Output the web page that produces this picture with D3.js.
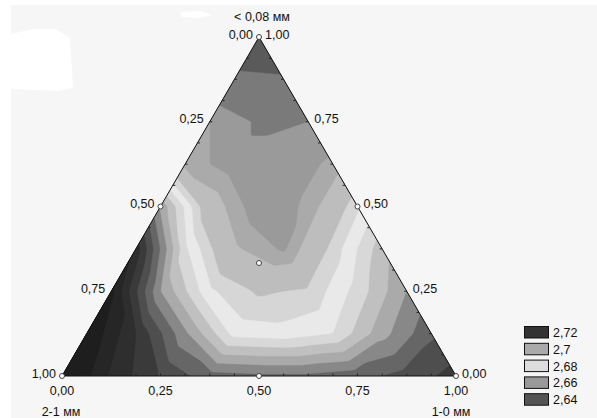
<!DOCTYPE html>
<html>
<head>
<meta charset="utf-8">
<script src="https://cdn.jsdelivr.net/npm/d3@7"></script>
<style>
body { margin: 0; background: #fff; }
svg { display: block; font-family: "Liberation Sans", Arial, sans-serif; }
</style>
</head>
<body>
<svg id="chart" width="597" height="418"></svg>
<script>
// surface read off the bands on a 1/8 triangular mesh
// rowK: fraction < 0,08 mm = K/8, entries step 1-0 mm by 1/8 from the left edge
var row0 = [2.743, 2.729, 2.7195, 2.712, 2.711, 2.711, 2.713, 2.717, 2.722];
var row1 = [2.740, 2.725, 2.706, 2.688, 2.687, 2.690, 2.703, 2.714];
var row2 = [2.736, 2.705, 2.686, 2.679, 2.681, 2.692, 2.705];
var row3 = [2.728, 2.691, 2.671, 2.664, 2.682, 2.698];
var row4 = [2.704, 2.674, 2.661, 2.666, 2.684];
var row5 = [2.668, 2.662, 2.662, 2.666];
var row6 = [2.665, 2.659, 2.660];
var row7 = [2.652, 2.651];
var row8 = [2.642];
var mesh = [row0, row1, row2, row3, row4, row5, row6, row7, row8];

// experimental points drawn as circles
var pt10   = [0, 1, 0, 0.5, 0,   0.5, 1/3];
var ptFine = [0, 0, 1, 0,   0.5, 0.5, 1/3];

// contour levels and the fill of the band starting at each level
var levels = [2.640, 2.650, 2.660, 2.665, 2.670, 2.680, 2.685, 2.690, 2.695,
              2.700, 2.705, 2.710, 2.715, 2.720, 2.725, 2.730, 2.735];
var bandColors = ["#5a5a5a", "#7a7a7a", "#9a9a9a", "#aaaaaa", "#bdbdbd", "#d6d6d6",
                  "#e9e9e9", "#d8d8d8", "#c0c0c0", "#aaaaaa", "#888888", "#666666",
                  "#4e4e4e", "#3a3a3a", "#2e2e2e", "#262626", "#1e1e1e"];
var belowColor = "#505050";

var legendLabels = ["2,72", "2,7", "2,68", "2,66", "2,64"];
var legendColors = ["#333333", "#aaaaaa", "#dddddd", "#999999", "#555555"];

var axisTicks = [0, 0.25, 0.5, 0.75, 1];
var minorTicks = d3.range(0, 1.0001, 1/16);

var svg = d3.select("#chart");

// scan background
svg.append("rect").attr("x", 11).attr("y", 5).attr("width", 586).attr("height", 413)
  .attr("fill", "#f6f6f6");
svg.append("path")
  .attr("d", "M11,34 L33,29 L56,29 L70,38 L73,88 L58,91 L11,89 Z")
  .attr("fill", "#fff");
svg.append("path")
  .attr("d", "M180,12 L200,11 L212,15 L200,18 L182,17 Z")
  .attr("fill", "#fff");

// base position for 1-0 mm, height for < 0.08 mm
var x = d3.scaleLinear().domain([0, 1]).range([62, 456]);
var y = d3.scaleLinear().domain([0, 1]).range([376, 37]);
function pos(b, c) { return [x(b + c / 2), y(c)]; }

// linear interpolation inside the mesh triangles
var n = mesh.length - 1;
function node(k, j) {
  k = Math.max(0, Math.min(n, k));
  var r = mesh[k];
  return r[Math.max(0, Math.min(r.length - 1, j))];
}
function surface(b, c) {
  c = Math.max(0, Math.min(1, c));
  b = Math.max(0, Math.min(1 - c, b));
  var v = c * n, u = b * n;
  var k = Math.min(n - 1, Math.floor(v)), j = Math.floor(u);
  var fv = v - k, fu = u - j;
  if (fu + fv <= 1) {
    return node(k, j) * (1 - fu - fv) + node(k, j + 1) * fu + node(k + 1, j) * fv;
  }
  return node(k + 1, j + 1) * (fu + fv - 1) + node(k, j + 1) * (1 - fv) + node(k + 1, j) * (1 - fu);
}

// sample the surface on a pixel grid
var x0 = 58, y0 = 33, step = 2, nx = 202, ny = 176;
var values = new Array(nx * ny);
for (var j = 0; j < ny; j++) {
  for (var i = 0; i < nx; i++) {
    var c = y.invert(y0 + (j + 0.5) * step);
    var b = x.invert(x0 + (i + 0.5) * step) - c / 2;
    values[j * nx + i] = surface(b, c);
  }
}

var tri = [pos(0, 0), pos(1, 0), pos(0, 1)];
svg.append("clipPath").attr("id", "tri").append("path")
  .attr("d", "M" + tri.join("L") + "Z");

var plot = svg.append("g").attr("clip-path", "url(#tri)");
plot.append("path").attr("d", "M" + tri.join("L") + "Z").attr("fill", belowColor);

var gridPath = d3.geoPath(d3.geoTransform({
  point: function(px, py) { this.stream.point(x0 + px * step, y0 + py * step); }
}));
var bands = d3.contours().size([nx, ny]).thresholds(levels)(values);
plot.selectAll("path.band").data(bands).join("path")
  .attr("class", "band")
  .attr("d", gridPath)
  .attr("fill", function(d, i) { return bandColors[i]; })
  .attr("stroke", function(d, i) { return bandColors[i]; })
  .attr("stroke-width", 0.4);

// frame and ticks
svg.append("path").attr("d", "M" + tri.join("L") + "Z")
  .attr("fill", "none").attr("stroke", "#111").attr("stroke-width", 1);

var tickG = svg.append("g").attr("stroke", "#222").attr("stroke-width", 1);
minorTicks.forEach(function(t) {
  var p = pos(t, 0);
  tickG.append("line").attr("x1", p[0]).attr("y1", p[1]).attr("x2", p[0]).attr("y2", p[1] - 2.5);
  var q = pos(0, t);
  tickG.append("line").attr("x1", q[0]).attr("y1", q[1]).attr("x2", q[0] + 2.5).attr("y2", q[1]);
  var r = pos(1 - t, t);
  tickG.append("line").attr("x1", r[0]).attr("y1", r[1]).attr("x2", r[0] - 2.5).attr("y2", r[1]);
});

var fmt = function(v) { return v.toFixed(2).replace(".", ","); };
var labels = svg.append("g").attr("font-size", "12.5px").attr("fill", "#111");

// 1-0 mm along the base
labels.selectAll("text.b").data(axisTicks).join("text")
  .attr("x", function(t) { return pos(t, 0)[0]; })
  .attr("y", 395)
  .attr("text-anchor", "middle")
  .text(fmt);
// 2-1 mm on the left edge
labels.selectAll("text.l").data(axisTicks).join("text")
  .attr("x", function(t) { return pos(0, 1 - t)[0] - 6; })
  .attr("y", function(t) { return pos(0, 1 - t)[1] + 1.5; })
  .attr("text-anchor", "end")
  .text(fmt);
// < 0.08 mm on the right edge
labels.selectAll("text.r").data(axisTicks).join("text")
  .attr("x", function(t) { return pos(1 - t, t)[0] + 6; })
  .attr("y", function(t) { return pos(1 - t, t)[1] + 1.5; })
  .attr("text-anchor", "start")
  .text(fmt);

labels.append("text").attr("x", 61).attr("y", 416).attr("text-anchor", "middle").text("2-1 мм");
labels.append("text").attr("x", 451).attr("y", 416).attr("text-anchor", "middle").text("1-0 мм");
labels.append("text").attr("x", 262).attr("y", 21).attr("text-anchor", "middle").text("< 0,08 мм");

// design points
svg.append("g").selectAll("circle").data(pt10).join("circle")
  .attr("cx", function(b, i) { return pos(b, ptFine[i])[0]; })
  .attr("cy", function(b, i) { return pos(b, ptFine[i])[1]; })
  .attr("r", 2.5)
  .attr("fill", "#fff")
  .attr("stroke", "#444")
  .attr("stroke-width", 1);

// legend
var leg = svg.append("g").attr("transform", "translate(524,326)");
leg.selectAll("rect").data(legendLabels).join("rect")
  .attr("x", 0.5).attr("y", function(d, i) { return i * 16.8 + 0.5; })
  .attr("width", 24).attr("height", 11.5)
  .attr("fill", function(d, i) { return legendColors[i]; })
  .attr("stroke", "#111").attr("stroke-width", 1);
leg.selectAll("text").data(legendLabels).join("text")
  .attr("x", 29).attr("y", function(d, i) { return i * 16.8 + 11; })
  .attr("font-size", "12.5px").attr("fill", "#111")
  .text(function(d) { return d; });
</script>
</body>
</html>
